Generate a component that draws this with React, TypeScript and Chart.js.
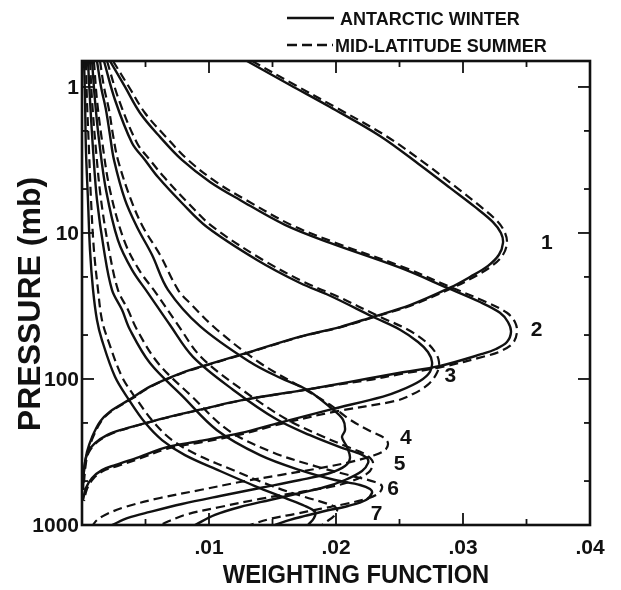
import React, { useEffect, useRef } from "react";
import { Chart, registerables } from "chart.js";

Chart.register(...registerables);

type Pt = [number, number]; // [weighting function, pressure (mb)]

// ---- Channel weighting functions: Antarctic winter (solid) / mid-latitude summer (dashed)
const ch1Winter: Pt[] = [[0.01299,0.664],[0.01638,0.969],[0.01953,1.371],[0.02346,2.166],[0.02661,3.42],[0.02898,4.91],[0.03094,6.63],[0.03236,8.42],[0.03299,10.0],[0.03315,11.7],[0.03283,14.1],[0.03197,16.8],[0.03055,20.0],[0.02898,23.7],[0.02583,31.2],[0.02291,37.5],[0.02031,44.1],[0.01717,51.3],[0.01323,65.3],[0.01008,78.9],[0.00787,90.7],[0.00535,112.7],[0.0037,139],[0.0022,167.3],[0.00142,195.8],[0.00079,250.3],[0.00039,316.7],[0.00016,420.7],[0.00008,576]];
const ch1Summer: Pt[] = [[0.01339,0.664],[0.01677,0.969],[0.01992,1.371],[0.02394,2.166],[0.02717,3.42],[0.02953,4.91],[0.03142,6.63],[0.03276,8.42],[0.03331,10.0],[0.03346,11.7],[0.03315,14.1],[0.03228,16.8],[0.03087,20.0],[0.02921,23.7],[0.02598,31.2],[0.02307,37.5],[0.02039,44.1],[0.01724,51.3],[0.01331,65.3],[0.01016,78.9],[0.00795,90.7],[0.00543,112.7],[0.00378,139],[0.00228,167.3],[0.0015,195.8],[0.00087,250.3],[0.00047,316.7],[0.00024,420.7],[0.00012,576]];
const ch2Winter: Pt[] = [[0.0022,0.664],[0.00339,1.0],[0.00457,1.507],[0.00614,2.198],[0.00787,3.162],[0.01008,4.47],[0.01244,5.94],[0.01598,8.8],[0.01953,11.7],[0.02504,17.3],[0.02874,23.7],[0.03134,29.7],[0.03291,35.2],[0.03354,40.7],[0.03378,47.6],[0.03346,55.8],[0.0326,62.3],[0.0315,67.4],[0.02819,81.4],[0.02504,90.7],[0.02244,99.6],[0.01953,110.9],[0.01717,120.2],[0.01268,139],[0.00929,162.2],[0.00693,180.9],[0.00512,198.9],[0.00299,224.2],[0.00197,242.6],[0.00102,274.7],[0.00047,316.7],[0.00024,370.8],[0.00008,492]];
const ch2Summer: Pt[] = [[0.00244,0.664],[0.0037,1.0],[0.00496,1.507],[0.00661,2.198],[0.00835,3.162],[0.01055,4.47],[0.01291,5.94],[0.01646,8.8],[0.02,11.7],[0.02543,17.3],[0.02913,23.7],[0.03181,29.7],[0.03346,35.2],[0.03409,40.7],[0.03425,47.6],[0.03394,56.7],[0.03299,64.3],[0.03181,69.6],[0.02835,82.7],[0.02512,92.4],[0.02252,102],[0.01961,110.9],[0.01724,120.2],[0.01276,139],[0.00937,162.2],[0.00701,180.9],[0.0052,198.9],[0.00307,224.2],[0.00205,242.6],[0.0011,274.7],[0.00055,316.7],[0.00028,370.8],[0.00012,492]];
const ch3Winter: Pt[] = [[0.00173,0.664],[0.0026,1.228],[0.00394,2.418],[0.00496,3.162],[0.00598,4.14],[0.00787,6.23],[0.00984,9.1],[0.01378,15.3],[0.01717,22.0],[0.01953,26.9],[0.02291,37.5],[0.02504,46.0],[0.02646,55.8],[0.02724,65.3],[0.02756,76.5],[0.0274,89.3],[0.02661,103.2],[0.02504,120.2],[0.0237,131.9],[0.01953,162.2],[0.01559,198.9],[0.01244,235.0],[0.00929,266],[0.00669,292.7],[0.00449,342.6],[0.0026,388.7],[0.00157,420.7],[0.00079,476.7],[0.00031,558.2],[0.00008,674]];
const ch3Summer: Pt[] = [[0.00197,0.664],[0.00291,1.228],[0.00433,2.418],[0.00535,3.162],[0.00646,4.14],[0.00835,6.23],[0.01031,9.1],[0.01425,15.3],[0.01764,22.0],[0.02,26.9],[0.02346,37.5],[0.02567,46.0],[0.02709,55.8],[0.0278,65.3],[0.02811,76.5],[0.02795,90.7],[0.02724,109.3],[0.02598,127.8],[0.02465,141.5],[0.01992,167.3],[0.01575,202],[0.0126,238.7],[0.00945,270.6],[0.00685,297.3],[0.00465,348.1],[0.00276,394.9],[0.00165,426.7],[0.00087,484],[0.00039,567],[0.00016,685]];
const ch4Winter: Pt[] = [[0.00118,0.664],[0.0015,1.0],[0.00189,1.437],[0.0022,2.133],[0.00252,3.162],[0.00339,5.94],[0.00433,9.1],[0.00551,14.1],[0.00677,24.5],[0.00929,43.4],[0.01323,76.5],[0.01559,98.1],[0.01772,118.4],[0.01976,162.2],[0.02055,189.7],[0.02071,224.2],[0.02047,250.3],[0.02087,292.7],[0.0211,348.1],[0.02071,394.9],[0.01953,440.4],[0.01717,492],[0.01402,558.2],[0.01087,633],[0.00787,718],[0.00535,814],[0.00362,895],[0.00236,1000]];
const ch4Summer: Pt[] = [[0.00142,0.664],[0.00173,1.0],[0.00213,1.437],[0.00244,2.133],[0.00283,3.162],[0.00386,5.94],[0.0048,9.1],[0.00614,14.1],[0.00756,24.5],[0.0085,30.2],[0.01063,46.0],[0.01402,77.7],[0.01717,112.7],[0.01953,150.2],[0.0211,189.7],[0.02268,227.1],[0.0237,250.3],[0.02409,274.7],[0.02386,306.8],[0.02283,336.9],[0.0211,370.8],[0.01874,407.6],[0.01559,455],[0.01244,507.7],[0.00929,576],[0.00614,653],[0.00339,753],[0.00181,853],[0.0011,939],[0.00087,1000]];
const ch5Winter: Pt[] = [[0.00079,0.664],[0.00102,1.23],[0.00134,2.31],[0.00189,5.07],[0.00283,11.2],[0.00394,17.9],[0.0052,25.8],[0.00693,42.7],[0.00874,70.6],[0.01189,118.4],[0.01535,189.7],[0.01795,242.6],[0.02031,292.7],[0.02173,321.7],[0.02244,348.1],[0.02252,376.6],[0.02205,426.7],[0.02071,492],[0.01913,549.4],[0.01717,604],[0.0148,674],[0.01244,753],[0.01047,853],[0.0089,1000]];
const ch5Summer: Pt[] = [[0.00094,0.664],[0.00118,1.23],[0.00157,2.31],[0.0022,5.07],[0.00331,11.2],[0.00449,17.9],[0.00583,25.8],[0.00756,42.7],[0.00937,70.6],[0.0126,118.4],[0.01614,189.7],[0.01874,242.6],[0.02094,292.7],[0.02228,326.3],[0.02283,359],[0.02291,388.7],[0.02252,440.4],[0.02126,500],[0.01953,549.4],[0.01717,594],[0.01402,663],[0.01087,753],[0.00811,853],[0.00614,1000]];
const ch6Winter: Pt[] = [[0.00047,0.664],[0.00063,1.23],[0.00087,2.7],[0.00118,5.94],[0.00173,13.1],[0.00236,24.5],[0.00315,33.6],[0.00378,46.0],[0.00535,77.7],[0.00795,131.9],[0.01063,224.2],[0.01402,332],[0.01717,420.7],[0.01992,492],[0.02189,532],[0.02268,567],[0.02283,604],[0.02236,674],[0.02094,741],[0.01913,802],[0.01756,867],[0.01638,922],[0.0152,1000]];
const ch6Summer: Pt[] = [[0.00063,0.664],[0.00079,1.23],[0.0011,2.7],[0.0015,5.94],[0.00213,13.1],[0.00283,24.5],[0.00362,33.6],[0.00433,46.0],[0.00598,77.7],[0.00866,131.9],[0.0115,224.2],[0.01496,316.7],[0.01835,394.9],[0.02126,461.6],[0.02307,507.7],[0.02362,540.8],[0.02339,604],[0.02236,663],[0.02071,718],[0.01874,776],[0.01677,840],[0.0148,908],[0.01323,1000]];
const ch7Winter: Pt[] = [[0.00016,0.664],[0.00024,1.23],[0.00031,2.7],[0.00047,5.94],[0.00063,13.1],[0.00087,24.5],[0.00118,39.4],[0.00157,54.1],[0.0026,96.6],[0.0037,139],[0.00496,198.9],[0.0063,262],[0.00811,332],[0.01087,426.7],[0.01362,540.8],[0.01598,653],[0.01756,741],[0.01835,814],[0.01827,895],[0.0178,1000]];
const ch7Summer: Pt[] = [[0.00031,0.664],[0.00039,1.23],[0.00055,2.7],[0.00071,5.94],[0.00094,13.1],[0.00126,24.5],[0.00157,39.4],[0.00205,54.1],[0.00315,96.6],[0.00433,139],[0.00567,198.9],[0.00709,262],[0.00913,332],[0.01205,426.7],[0.01496,540.8],[0.01756,643],[0.01937,718],[0.02008,776],[0.01984,867],[0.01921,953],[0.0189,1000]];

const winterCurves: Pt[][] = [ch1Winter, ch2Winter, ch3Winter, ch4Winter, ch5Winter, ch6Winter, ch7Winter];
const summerCurves: Pt[][] = [ch1Summer, ch2Summer, ch3Summer, ch4Summer, ch5Summer, ch6Summer, ch7Summer];

// channel number labels and where they sit (weighting, pressure)
const channelLabels = ["1", "2", "3", "4", "5", "6", "7"];
const channelLabelPos: Pt[] = [[0.0366, 11.7], [0.0358, 46], [0.029, 95], [0.0255, 255], [0.025, 385], [0.0245, 570], [0.0232, 850]];

// axes
const xMin = 0, xMax = 0.04;
const yMin = 0.664, yMax = 1000;
const xMajorTicks = [0.01, 0.02, 0.03, 0.04];
const xMajorLabels = [".01", ".02", ".03", ".04"];
const xMinorTicks = [0.005, 0.015, 0.025, 0.035];
const yMajorTicks = [1, 10, 100, 1000];
const yMajorLabels = ["1", "10", "100", "1000"];
const yMinorTicks = [2, 5, 20, 50, 200, 500];

const xTitle = "WEIGHTING FUNCTION";
const yTitle = "PRESSURE (mb)";
const legendLabels = ["ANTARCTIC WINTER", "MID-LATITUDE SUMMER"];

const INK = "#111";
const FONT = '"Liberation Sans", Arial, Helvetica, sans-serif';

const overlayPlugin = {
  id: "overlay",
  afterDraw(chart: any) {
    const { ctx, chartArea: ca, scales } = chart;
    const xs = scales.x;
    const ys = scales.y;
    ctx.save();
    ctx.strokeStyle = INK;
    ctx.fillStyle = INK;
    ctx.setLineDash([]);
    ctx.lineCap = "butt";

    // frame
    ctx.lineWidth = 2.6;
    ctx.strokeRect(ca.left, ca.top, ca.right - ca.left, ca.bottom - ca.top);

    const seg = (x1: number, y1: number, x2: number, y2: number) => {
      ctx.beginPath();
      ctx.moveTo(x1, y1);
      ctx.lineTo(x2, y2);
      ctx.stroke();
    };
    ctx.lineWidth = 1.8;
    const MAJ = 12, MIN = 6;
    xMajorTicks.forEach((v) => {
      const px = xs.getPixelForValue(v);
      seg(px, ca.bottom, px, ca.bottom - MAJ);
      seg(px, ca.top, px, ca.top + MAJ);
    });
    xMinorTicks.forEach((v) => {
      const px = xs.getPixelForValue(v);
      seg(px, ca.bottom, px, ca.bottom - MIN);
      seg(px, ca.top, px, ca.top + MIN);
    });
    yMajorTicks.forEach((v) => {
      const py = ys.getPixelForValue(v);
      seg(ca.left, py, ca.left + MAJ, py);
      seg(ca.right, py, ca.right - MAJ, py);
    });
    yMinorTicks.forEach((v) => {
      const py = ys.getPixelForValue(v);
      seg(ca.left, py, ca.left + MIN, py);
      seg(ca.right, py, ca.right - MIN, py);
    });

    // tick labels
    ctx.font = `bold 21px ${FONT}`;
    ctx.textAlign = "center";
    ctx.textBaseline = "alphabetic";
    xMajorTicks.forEach((v, i) => ctx.fillText(xMajorLabels[i], xs.getPixelForValue(v), ca.bottom + 29));
    ctx.textAlign = "right";
    ctx.textBaseline = "middle";
    yMajorTicks.forEach((v, i) => ctx.fillText(yMajorLabels[i], ca.left - 3, ys.getPixelForValue(v) + 1));

    // channel labels
    ctx.font = `bold 21px ${FONT}`;
    ctx.textAlign = "center";
    ctx.textBaseline = "middle";
    channelLabels.forEach((t, i) => {
      const [v, p] = channelLabelPos[i];
      ctx.fillText(t, xs.getPixelForValue(v), ys.getPixelForValue(p));
    });

    // axis titles
    ctx.save();
    ctx.translate(356, 583);
    ctx.scale(0.95, 1);
    ctx.font = `bold 25px ${FONT}`;
    ctx.textAlign = "center";
    ctx.textBaseline = "alphabetic";
    ctx.fillText(xTitle, 0, 0);
    ctx.restore();
    ctx.save();
    ctx.translate(31, 304);
    ctx.rotate(-Math.PI / 2);
    ctx.font = `bold 32px ${FONT}`;
    ctx.textAlign = "center";
    ctx.textBaseline = "middle";
    ctx.fillText(yTitle, 0, 0);
    ctx.restore();

    // legend
    ctx.lineWidth = 2.5;
    seg(287, 18, 334, 18);
    ctx.setLineDash([10, 5]);
    seg(287, 45, 333, 45);
    ctx.setLineDash([]);
    ctx.font = `bold 18px ${FONT}`;
    ctx.textAlign = "left";
    ctx.textBaseline = "alphabetic";
    ctx.fillText(legendLabels[0], 340, 25);
    ctx.fillText(legendLabels[1], 335, 52);

    ctx.restore();
  },
};

export default function App() {
  const ref = useRef<HTMLCanvasElement>(null);
  useEffect(() => {
    const canvas = ref.current;
    if (!canvas) return;
    const datasets: any[] = [];
    winterCurves.forEach((c, i) => {
      datasets.push({
        label: `${channelLabels[i]} winter`,
        data: c.map(([x, y]) => ({ x, y })),
        showLine: true,
        borderColor: INK,
        borderWidth: 2.4,
        pointRadius: 0,
        tension: 0.35,
        fill: false,
      });
    });
    summerCurves.forEach((c, i) => {
      datasets.push({
        label: `${channelLabels[i]} summer`,
        data: c.map(([x, y]) => ({ x, y })),
        showLine: true,
        borderColor: INK,
        borderWidth: 2.2,
        borderDash: [9, 5],
        pointRadius: 0,
        tension: 0.35,
        fill: false,
      });
    });
    const chart = new Chart(canvas, {
      type: "scatter",
      data: { datasets },
      options: {
        animation: false,
        responsive: false,
        maintainAspectRatio: false,
        devicePixelRatio: 1,
        layout: { padding: { left: 82, top: 61, right: 31, bottom: 65 } },
        plugins: { legend: { display: false }, tooltip: { enabled: false } },
        scales: {
          x: { type: "linear", min: xMin, max: xMax, display: false },
          y: { type: "logarithmic", min: yMin, max: yMax, reverse: true, display: false },
        },
      },
      plugins: [overlayPlugin],
    } as any);
    return () => chart.destroy();
  }, []);
  return (
    <div style={{ position: "absolute", left: 0, top: 0, width: 621, height: 590, background: "#fff" }}>
      <canvas ref={ref} width={621} height={590} style={{ display: "block", width: 621, height: 590 }} />
    </div>
  );
}
